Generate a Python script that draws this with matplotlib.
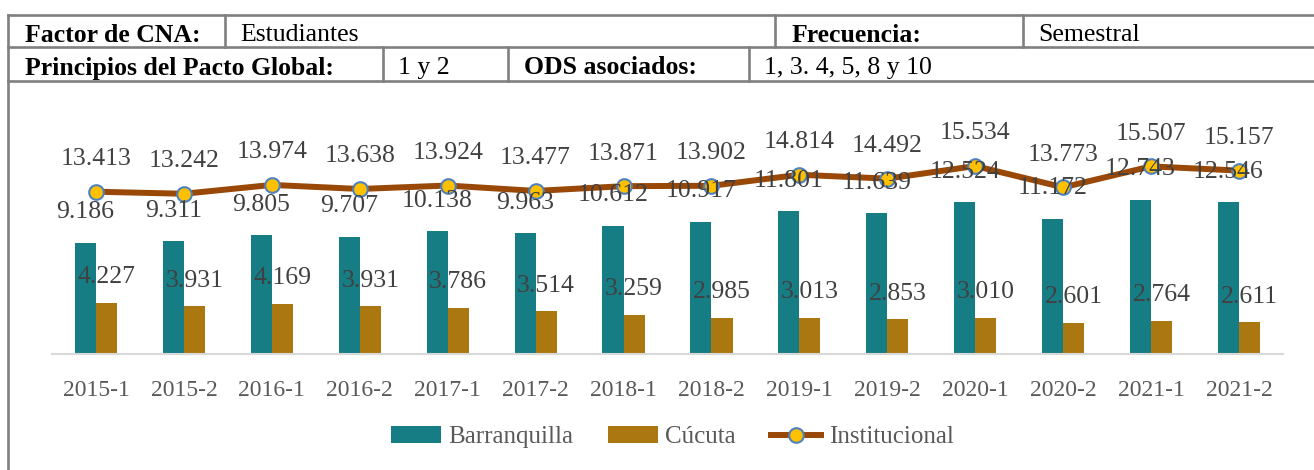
import matplotlib.pyplot as plt
from matplotlib.lines import Line2D
import numpy as np

# Chart data
periods = ['2015-1', '2015-2', '2016-1', '2016-2', '2017-1', '2017-2', '2018-1',
           '2018-2', '2019-1', '2019-2', '2020-1', '2020-2', '2021-1', '2021-2']
barranquilla = [9.186, 9.311, 9.805, 9.707, 10.138, 9.963, 10.612,
                10.917, 11.801, 11.639, 12.524, 11.172, 12.743, 12.546]
cucuta = [4.227, 3.931, 4.169, 3.931, 3.786, 3.514, 3.259,
          2.985, 3.013, 2.853, 3.010, 2.601, 2.764, 2.611]
institucional = [13.413, 13.242, 13.974, 13.638, 13.924, 13.477, 13.871,
                 13.902, 14.814, 14.492, 15.534, 13.773, 15.507, 15.157]

# Header table content
row1 = [('Factor de CNA:', True), ('Estudiantes', False), ('Frecuencia:', True), ('Semestral', False)]
row2 = [('Principios del Pacto Global:', True), ('1 y 2', False), ('ODS asociados:', True),
        ('1, 3. 4, 5, 8 y 10', False)]

plt.rcParams['font.family'] = ['Liberation Serif', 'DejaVu Serif']

W, H = 1314, 470
fig = plt.figure(figsize=(W / 100, H / 100), dpi=100)
fig.patch.set_facecolor('white')


def fx(px):
    return px / W


def fy(py):
    return 1 - py / H


def hline(x0, x1, y):
    fig.add_artist(Line2D([fx(x0), fx(x1)], [fy(y), fy(y)], color='#808080', lw=1.9))


def vline(x, y0, y1):
    fig.add_artist(Line2D([fx(x), fx(x)], [fy(y0), fy(y1)], color='#808080', lw=1.9))


# table frame
hline(8, W, 15)
hline(8, W, 47)
hline(8, W, 81)
vline(8, 15, H)
for x in [225, 775, 1023]:
    vline(x, 15, 47)
for x in [383, 508, 749]:
    vline(x, 47, 81)

row1_x = [25, 240, 792, 1038]
row2_x = [25, 398, 524, 764]
for (txt, bold), x in zip(row1, row1_x):
    fig.text(fx(x), fy(35), txt, fontsize=18.5, fontweight='bold' if bold else 'normal',
             va='center', ha='left', color='black')
for (txt, bold), x in zip(row2, row2_x):
    fig.text(fx(x), fy(68), txt, fontsize=18.5, fontweight='bold' if bold else 'normal',
             va='center', ha='left', color='black')

# chart axes
ax = fig.add_axes([fx(52), fy(354), fx(1283) - fx(52), fy(112) - fy(354)])
x = np.arange(len(periods))
bw = 0.24
teal = '#167D84'
gold = '#AB7711'
b1 = ax.bar(x - bw / 2, barranquilla, bw, color=teal, label='Barranquilla')
b2 = ax.bar(x + bw / 2, cucuta, bw, color=gold, label='Cúcuta')
ln, = ax.plot(x, institucional, color='#9A4806', lw=4.3, marker='o', markersize=10.5,
              markerfacecolor='#FFC000', markeredgecolor='#4F81BD', markeredgewidth=1.5,
              label='Institucional', zorder=3)

lbl_col = '#404040'
fs = 18.5
for i in range(len(periods)):
    ax.annotate(f'{barranquilla[i]:.3f}', (x[i] - bw / 2, barranquilla[i]), xytext=(0, 22),
                textcoords='offset points', ha='center', va='center', fontsize=fs, color=lbl_col)
    ax.annotate(f'{cucuta[i]:.3f}', (x[i] + bw / 2, cucuta[i]), xytext=(0, 18.5),
                textcoords='offset points', ha='center', va='center', fontsize=fs, color=lbl_col)
    ax.annotate(f'{institucional[i]:.3f}', (x[i], institucional[i]), xytext=(0, 23.5),
                textcoords='offset points', ha='center', va='center', fontsize=fs, color=lbl_col)

ax.set_xlim(-0.5, len(periods) - 0.5)
ax.set_ylim(0, 20)
ax.set_xticks(x)
ax.set_xticklabels(periods, fontsize=17, color='#595959')
ax.tick_params(axis='x', length=0, pad=19)
ax.set_yticks([])
for s in ['top', 'right', 'left']:
    ax.spines[s].set_visible(False)
ax.spines['bottom'].set_color('#D9D9D9')
ax.spines['bottom'].set_linewidth(1.5)

leg = fig.legend(handles=[b1, b2, ln], loc='center', bbox_to_anchor=(fx(672), fy(437)),
                 ncol=3, frameon=False, fontsize=18, handlelength=2.0, columnspacing=1.4,
                 handletextpad=0.3)
for t in leg.get_texts():
    t.set_color('#595959')

fig.savefig('out.png', dpi=100)
